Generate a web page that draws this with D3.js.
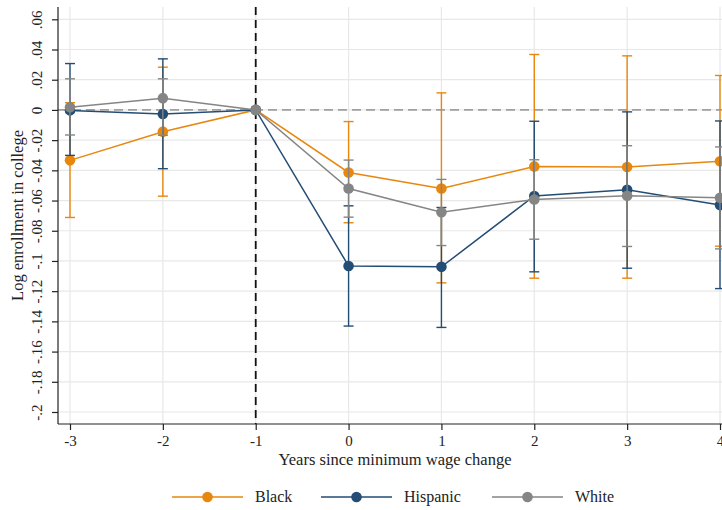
<!DOCTYPE html>
<html>
<head>
<meta charset="utf-8">
<script src="https://cdn.jsdelivr.net/npm/d3@7"></script>
<style>
  html, body { margin: 0; padding: 0; background: #fff; }
  svg { display: block; font-family: "Liberation Serif", "DejaVu Serif", serif; }
</style>
</head>
<body>
<svg id="chart" width="722" height="510"></svg>
<script>
// Event-study estimates: years relative to minimum wage change
const years = [-3, -2, -1, 0, 1, 2, 3, 4];
const yearLabels = ["-3", "-2", "-1", "0", "1", "2", "3", "4"];
const yTicks = [0.06, 0.04, 0.02, 0, -0.02, -0.04, -0.06, -0.08, -0.1, -0.12, -0.14, -0.16, -0.18, -0.2];
const yTickLabels = [".06", ".04", ".02", "0", "-.02", "-.04", "-.06", "-.08", "-.1", "-.12", "-.14", "-.16", "-.18", "-.2"];

const blackEst = [-0.0334, -0.0144, 0, -0.0414, -0.0520, -0.0374, -0.0378, -0.0340];
const blackLo  = [-0.0712, -0.0571, 0, -0.0747, -0.1145, -0.1114, -0.1114, -0.0902];
const blackHi  = [ 0.0048,  0.0283, 0, -0.0077,  0.0113,  0.0367,  0.0358,  0.0228];

const hispEst = [-0.0003, -0.0027, 0, -0.1033, -0.1039, -0.0570, -0.0529, -0.0630];
const hispLo  = [-0.0301, -0.0389, 0, -0.1431, -0.1440, -0.1072, -0.1048, -0.1183];
const hispHi  = [ 0.0307,  0.0338, 0, -0.0635, -0.0646, -0.0075, -0.0013, -0.0073];

const whiteEst = [ 0.0018,  0.0078, 0, -0.0520, -0.0677, -0.0593, -0.0568, -0.0582];
const whiteLo  = [-0.0166, -0.0168, 0, -0.0710, -0.0898, -0.0856, -0.0904, -0.0920];
const whiteHi  = [ 0.0206,  0.0206, 0, -0.0332, -0.0460, -0.0330, -0.0237, -0.0245];

const seriesNames = ["Black", "Hispanic", "White"];
const seriesColors = ["#e8870e", "#234d74", "#858585"];

const series = [
  { name: seriesNames[0], color: seriesColors[0], est: blackEst, lo: blackLo, hi: blackHi },
  { name: seriesNames[1], color: seriesColors[1], est: hispEst, lo: hispLo, hi: hispHi },
  { name: seriesNames[2], color: seriesColors[2], est: whiteEst, lo: whiteLo, hi: whiteHi }
];

const svg = d3.select("#chart");
const W = 722, H = 510;
const plotLeft = 58, plotTop = 7, plotBottom = 424, plotRight = 730;
const font = "Liberation Serif, DejaVu Serif, serif";

const x = d3.scaleLinear().domain([-3, 4]).range([70, 720]);
const y = d3.scaleLinear().domain([-0.2, 0.06]).range([412, 19.3]);

svg.append("rect").attr("width", W).attr("height", H).attr("fill", "#fff");

// grid
const grid = svg.append("g");
grid.selectAll("line.h").data(yTicks).join("line")
  .attr("x1", plotLeft).attr("x2", plotRight)
  .attr("y1", d => y(d)).attr("y2", d => y(d))
  .attr("stroke", "#e8e8e8").attr("stroke-width", 1.2);
grid.selectAll("line.v").data(years).join("line")
  .attr("x1", d => x(d)).attr("x2", d => x(d))
  .attr("y1", plotTop).attr("y2", plotBottom)
  .attr("stroke", "#e8e8e8").attr("stroke-width", 1.2);

// reference lines
svg.append("line")
  .attr("x1", plotLeft).attr("x2", plotRight)
  .attr("y1", y(0)).attr("y2", y(0))
  .attr("stroke", "#a0a0a0").attr("stroke-width", 1.6)
  .attr("stroke-dasharray", "9,5");
svg.append("line")
  .attr("x1", x(-1)).attr("x2", x(-1))
  .attr("y1", plotTop).attr("y2", plotBottom)
  .attr("stroke", "#111").attr("stroke-width", 1.8)
  .attr("stroke-dasharray", "8,5");

// series: confidence caps, connected lines, markers
const capHalf = 5;
series.forEach(s => {
  const g = svg.append("g");
  const rows = years.map((yr, i) => ({ yr, est: s.est[i], lo: s.lo[i], hi: s.hi[i] }));
  const ci = rows.filter(r => r.lo !== r.hi);
  g.selectAll("line.ci").data(ci).join("line")
    .attr("x1", d => x(d.yr)).attr("x2", d => x(d.yr))
    .attr("y1", d => y(d.lo)).attr("y2", d => y(d.hi))
    .attr("stroke", s.color).attr("stroke-width", 1.4);
  ["lo", "hi"].forEach(k => {
    g.selectAll("line.cap" + k).data(ci).join("line")
      .attr("x1", d => x(d.yr) - capHalf).attr("x2", d => x(d.yr) + capHalf)
      .attr("y1", d => y(d[k])).attr("y2", d => y(d[k]))
      .attr("stroke", s.color).attr("stroke-width", 1.4);
  });
  g.append("path").datum(rows)
    .attr("fill", "none").attr("stroke", s.color).attr("stroke-width", 1.5)
    .attr("d", d3.line().x(d => x(d.yr)).y(d => y(d.est)));
  g.selectAll("circle").data(rows).join("circle")
    .attr("cx", d => x(d.yr)).attr("cy", d => y(d.est))
    .attr("r", 5.3).attr("fill", s.color);
});

// axes
const axisColor = "#222";
const yAxis = svg.append("g").attr("transform", `translate(${plotLeft},0)`)
  .call(d3.axisLeft(y).tickValues(yTicks).tickSize(6).tickFormat((d, i) => yTickLabels[i]));
yAxis.select(".domain").remove();
yAxis.append("line").attr("x1", 0).attr("x2", 0).attr("y1", plotTop).attr("y2", plotBottom)
  .attr("stroke", axisColor).attr("stroke-width", 1.2);
yAxis.selectAll(".tick line").attr("stroke", axisColor).attr("stroke-width", 1.2);
yAxis.selectAll(".tick text")
  .attr("x", null).attr("dy", null)
  .attr("transform", "translate(-16,0) rotate(-90)")
  .attr("text-anchor", "middle")
  .attr("font-size", 15).attr("fill", "#222")
  .attr("font-family", font);

const xAxis = svg.append("g").attr("transform", `translate(0,${plotBottom})`)
  .call(d3.axisBottom(x).tickValues(years).tickSize(6).tickFormat((d, i) => yearLabels[i]));
xAxis.select(".domain").remove();
xAxis.append("line").attr("x1", plotLeft).attr("x2", plotRight).attr("y1", 0).attr("y2", 0)
  .attr("stroke", axisColor).attr("stroke-width", 1.2);
xAxis.selectAll(".tick line").attr("stroke", axisColor).attr("stroke-width", 1.2);
xAxis.selectAll(".tick text")
  .attr("y", 11).attr("dy", "0.71em")
  .attr("font-size", 15).attr("fill", "#222")
  .attr("font-family", font);

// axis titles
svg.append("text")
  .attr("x", 395).attr("y", 465)
  .attr("text-anchor", "middle").attr("font-size", 16.5).attr("fill", "#222")
  .text("Years since minimum wage change");
svg.append("text")
  .attr("transform", `translate(23,${(plotTop + plotBottom) / 2}) rotate(-90)`)
  .attr("text-anchor", "middle").attr("font-size", 16.5).attr("fill", "#222")
  .text("Log enrollment in college");

// legend
const legendX = [172, 321, 492];
const legendY = 497;
series.forEach((s, i) => {
  const g = svg.append("g").attr("transform", `translate(${legendX[i]},${legendY})`);
  g.append("line").attr("x1", 0).attr("x2", 71).attr("y1", 0).attr("y2", 0)
    .attr("stroke", s.color).attr("stroke-width", 1.5);
  g.append("circle").attr("cx", 35.5).attr("cy", 0).attr("r", 5.3).attr("fill", s.color);
  g.append("text").attr("x", 83).attr("y", 5).attr("font-size", 16).attr("fill", "#222")
    .text(s.name);
});
</script>
</body>
</html>
